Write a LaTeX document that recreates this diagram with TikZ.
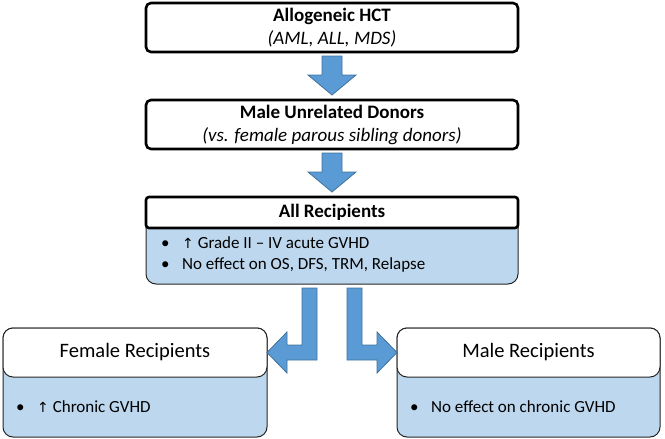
\documentclass[tikz,border=0pt]{standalone}
\usepackage{fontspec}
\setmainfont{Carlito}
\newfontfamily\arrowfont{DejaVu Sans}
\usepackage{tikz}
\usetikzlibrary{positioning, calc}

\definecolor{paleblue}{RGB}{189,215,238}
\definecolor{arrowblue}{RGB}{91,155,213}
\definecolor{arrowedge}{RGB}{65,113,156}
\newcommand{\bul}{\makebox[21pt][l]{•}}
\newcommand{\up}{{\arrowfont\fontsize{14}{14}\selectfont ↑}}

\begin{document}
\begin{tikzpicture}[x=1pt, y=-1pt,
    topbox/.style={rectangle, draw=black, line width=2.6pt, fill=white, rounded corners=5pt, minimum width=372pt, minimum height=49pt, align=center, outer sep=0pt, font=\fontsize{19}{23}\selectfont},
    bodybox/.style={rectangle, draw=black!85, line width=1pt, fill=paleblue, rounded corners=10pt, outer sep=0pt},
    headbox/.style={rectangle, draw=black!85, line width=1pt, fill=white, rounded corners=10pt, minimum height=49pt, outer sep=0pt, font=\fontsize{20.5}{22}\selectfont},
    listtext/.style={align=left, inner sep=0pt, font=\fontsize{17}{21}\selectfont},
    blockarrow/.style={draw=arrowedge, line width=0.8pt, fill=arrowblue, line join=miter}
]
\useasboundingbox (0,0) rectangle (665,439);

\node (hct) [topbox, anchor=north] at (332,3) {\textbf{Allogeneic HCT}\\\textit{(AML, ALL, MDS)}};
\node (donors) [topbox, anchor=north] at (332,100) {\textbf{Male Unrelated Donors}\\\textit{(vs. female parous sibling donors)}};

% all recipients
\node (allbody) [bodybox, minimum width=372pt, minimum height=87pt, anchor=north] at (332,197) {};
\node (allhead) [topbox, minimum height=31pt, rounded corners=3pt, anchor=north] at (332,197) {\textbf{All Recipients}};
\node (alltext) [listtext, anchor=west] at ($(allbody.south west)+(15,-30)$) {\bul\up\ Grade II -- IV acute GVHD\\\bul No effect on OS, DFS, TRM, Relapse};

% female / male recipients
\node (fembody) [bodybox, minimum width=264pt, minimum height=109pt, anchor=north] at (135,328) {};
\node (femhead) [headbox, minimum width=264pt, anchor=north] at (135,328) {Female Recipients};
\node (femtext) [listtext, anchor=west] at ($(fembody.south west)+(13,-30)$) {\bul\up\ Chronic GVHD};

\node (malebody) [bodybox, minimum width=263pt, minimum height=109pt, anchor=north] at (528.5,328) {};
\node (malehead) [headbox, minimum width=263pt, anchor=north] at (528.5,328) {Male Recipients};
\node (maletext) [listtext, anchor=west] at ($(malebody.south west)+(13,-30)$) {\bul No effect on chronic GVHD};

% arrows
\draw [blockarrow] ($(hct.south)+(-10,4)$) -- ++(0,19) -- ++(-14,0) -- ($(donors.north)+(0,-5)$) -- ++(24,-20) -- ++(-14,0) -- ++(0,-19) -- cycle;
\draw [blockarrow] ($(donors.south)+(-10,4)$) -- ++(0,19) -- ++(-14,0) -- ($(allhead.north)+(0,-5)$) -- ++(24,-20) -- ++(-14,0) -- ++(0,-19) -- cycle;
\draw [blockarrow] ($(allbody.south)+(-15,4)$) |- ($(femhead.east)+(20,7.5)$) -- ++(0,13) -- (femhead.east) -- ++(20,-20.5) -- ++(0,13) -| ($(allbody.south)+(-30,4)$) -- cycle;
\draw [blockarrow] ($(allbody.south)+(15,4)$) |- ($(malehead.west)+(-20,7.5)$) -- ++(0,13) -- (malehead.west) -- ++(-20,-20.5) -- ++(0,13) -| ($(allbody.south)+(30,4)$) -- cycle;

\end{tikzpicture}
\end{document}
